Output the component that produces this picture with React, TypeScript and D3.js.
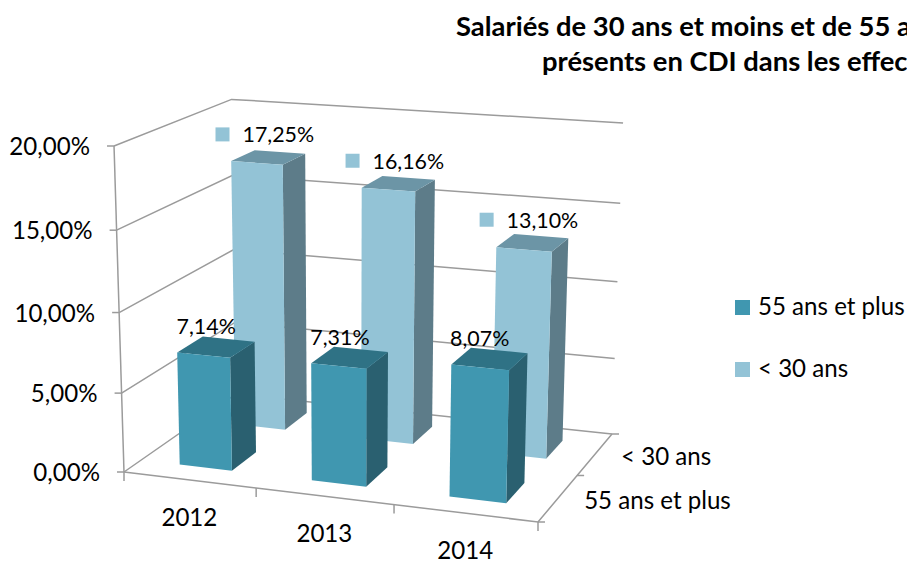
import React from "react";
import * as d3 from "d3";

// ---------- data ----------
const years = ["2012", "2013", "2014"];
const seriesNames = ["< 30 ans", "55 ans et plus"]; // back to front
const youngValues = [17.25, 16.16, 13.1];
const seniorValues = [7.14, 7.31, 8.07];
const valueTicks = [0, 5, 10, 15, 20];
const legendNames = ["55 ans et plus", "< 30 ans"];
const titleLines = [
  "Salariés de 30 ans et moins et de 55 ans et plus",
  "présents en CDI dans les effectifs",
];

// ---------- colours ----------
const FONT = "Lato, Carlito, Calibri, sans-serif";
const GRID = "#9b9b9b";
const palette: Record<string, { front: string; side: string; top: string }> = {
  "55 ans et plus": { front: "#4097B0", side: "#2A6070", top: "#2F7285" },
  "< 30 ans": { front: "#93C3D6", side: "#5D7C89", top: "#6C95A6" },
};

// ---------- the 3D box seen in the picture ----------
type P = [number, number];
const floorFL: P = [124, 472];
const floorFR: P = [538, 522];
const floorBR: P = [612, 434];
const floorBL: P = [236, 394];
const topFL: P = [114, 146];
const verticalVanish: P = [349, 7823];

function makeProjection() {
  const [x0, y0] = floorFL, [x1, y1] = floorFR, [x2, y2] = floorBR, [x3, y3] = floorBL;
  const dx1 = x1 - x2, dx2 = x3 - x2, dx3 = x0 - x1 + x2 - x3;
  const dy1 = y1 - y2, dy2 = y3 - y2, dy3 = y0 - y1 + y2 - y3;
  const det = dx1 * dy2 - dx2 * dy1;
  const g = (dx3 * dy2 - dx2 * dy3) / det;
  const h = (dx1 * dy3 - dx3 * dy1) / det;
  const a = x1 - x0 + g * x1, b = x3 - x0 + h * x3;
  const d = y1 - y0 + g * y1, e = y3 - y0 + h * y3;
  const k = (topFL[1] - y0) / (verticalVanish[1] - topFL[1]);
  const Tx = k * verticalVanish[0];
  const Ty = k * verticalVanish[1];
  return (u: number, w: number, t: number): P => {
    const q = g * u + h * w + 1 + k * t;
    return [
      (a * u + b * w + x0 + Tx * t) / q,
      (d * u + e * w + y0 + Ty * t) / q,
    ];
  };
}
const project = makeProjection();

const uScale = d3.scaleBand<string>().domain(years).range([0, 1]).paddingInner(0.6).paddingOuter(0.3);
const uStep = d3.scaleBand<string>().domain(years).range([0, 1]);
const wScale = d3.scaleBand<string>().domain(["55 ans et plus", "< 30 ans"]).range([0, 1]).paddingInner(0.56).paddingOuter(0.28);
const tScale = d3.scaleLinear().domain([0, 20]).range([0, 1]);
const fmt = (v: number) => v.toFixed(2).replace(".", ",") + "%";
const poly = (pts: P[]) => pts.map((p) => p.map((n) => n.toFixed(1)).join(",")).join(" ");
const line = d3.line<P>();

function Bar({ year, series, value }: { year: string; series: string; value: number }) {
  const u0 = uScale(year)!, u1 = u0 + uScale.bandwidth();
  const w0 = wScale(series)!, w1 = w0 + wScale.bandwidth();
  const t = tScale(value);
  const c = palette[series];
  return (
    <g>
      <polygon points={poly([project(u1, w0, 0), project(u1, w1, 0), project(u1, w1, t), project(u1, w0, t)])} fill={c.side} />
      <polygon points={poly([project(u0, w0, t), project(u1, w0, t), project(u1, w1, t), project(u0, w1, t)])} fill={c.top} />
      <polygon points={poly([project(u0, w0, 0), project(u1, w0, 0), project(u1, w0, t), project(u0, w0, t)])} fill={c.front} />
    </g>
  );
}

function App() {
  const grid = { fill: "none", stroke: GRID, strokeWidth: 1.5 };
  const axisText = { fontFamily: FONT, fontSize: 24.1, fill: "#000" };
  const labelText = { fontFamily: FONT, fontSize: 21.4, fill: "#000" };
  const uCenter = (y: string) => uStep(y)! + uStep.bandwidth() / 2;
  const wCenter = (s: string) => wScale(s)! + wScale.bandwidth() / 2;
  return (
    <svg
      width={907}
      height={561}
      viewBox="0 0 907 561"
      style={{ position: "absolute", left: 0, top: 0, background: "#fff", overflow: "hidden" }}
    >
      {/* title, cut by the right edge as in the source */}
      <g fontFamily={FONT} fontWeight={700} fontSize={27.4} fill="#000">
        <text x={456} y={36}>{titleLines[0]}</text>
        <text x={542} y={71}>{titleLines[1]}</text>
      </g>

      {/* walls */}
      {valueTicks.map((v) => {
        const t = tScale(v);
        return (
          <path
            key={v}
            d={line([project(0, 0, t), project(0, 1, t), project(1, 1, t)])!}
            {...grid}
          />
        );
      })}
      <path d={line([project(0, 0, 0), project(0, 0, 1)])!} {...grid} />
      <path d={line([project(0, 0, 0), project(1, 0, 0), project(1, 1, 0)])!} {...grid} />

      {/* ticks */}
      {valueTicks.map((v) => {
        const [x, y] = project(0, 0, tScale(v));
        return <path key={v} d={`M${x - 7},${y}H${x}`} {...grid} />;
      })}
      {uStep.domain().concat("end").map((y, i) => {
        const [x, yy] = project(i / years.length, 0, 0);
        return <path key={y} d={`M${x},${yy}V${yy + 9}`} {...grid} />;
      })}
      {[0, 0.5, 1].map((w) => {
        const [x, y] = project(1, w, 0);
        return <path key={w} d={`M${x},${y}H${x + 7}`} {...grid} />;
      })}

      {/* bars, back row first */}
      {years.map((y, i) => <Bar key={y} year={y} series="< 30 ans" value={youngValues[i]} />)}
      {years.map((y, i) => <Bar key={y} year={y} series="55 ans et plus" value={seniorValues[i]} />)}

      {/* value axis labels */}
      {valueTicks.map((v) => {
        const [x, y] = project(0, 0, tScale(v));
        return (
          <text key={v} x={x - 24} y={y + 9} textAnchor="end" {...axisText}>{fmt(v)}</text>
        );
      })}
      {/* category labels */}
      {years.map((y) => {
        const [x, yy] = project(uCenter(y), 0, 0);
        return <text key={y} x={x} y={yy + 46} textAnchor="middle" {...axisText}>{y}</text>;
      })}
      {/* depth labels */}
      {seriesNames.map((s) => {
        const [x, y] = project(1, wCenter(s), 0);
        return <text key={s} x={x + 26} y={y + 11} {...axisText}>{s}</text>;
      })}

      {/* data labels */}
      {years.map((y, i) => {
        const [x, yy] = project(uCenter(y), wCenter("55 ans et plus"), tScale(seniorValues[i]));
        return (
          <text key={y} x={x - 10} y={yy - 13} textAnchor="middle" {...labelText}>{fmt(seniorValues[i])}</text>
        );
      })}
      {years.map((y, i) => {
        const [x, yy] = project(uCenter(y), wCenter("< 30 ans"), tScale(youngValues[i]));
        return (
          <g key={y}>
            <rect x={x - 53} y={yy - 30} width={14} height={14} fill={palette["< 30 ans"].front} />
            <text x={x - 26} y={yy - 15} {...labelText}>{fmt(youngValues[i])}</text>
          </g>
        );
      })}

      {/* legend */}
      {legendNames.map((s, i) => (
        <g key={s}>
          <rect x={735} y={300 + i * 62} width={15} height={15} fill={palette[s].front} />
          <text x={758} y={315 + i * 62} {...axisText}>{s}</text>
        </g>
      ))}
    </svg>
  );
}

export default App;
